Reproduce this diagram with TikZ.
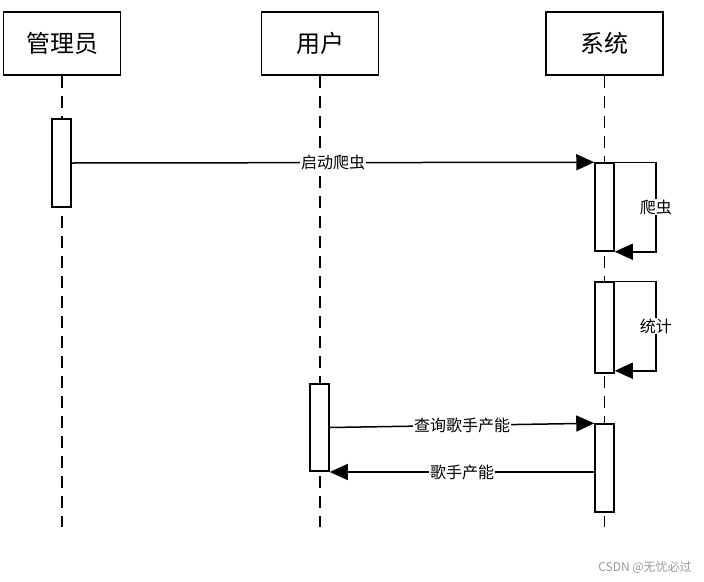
\documentclass[tikz,border=0pt]{standalone}
\usepackage{fontspec}
\newfontfamily\cjk{Noto Sans CJK SC}
\usetikzlibrary{arrows.meta,calc}

\tikzset{
  actor/.style={draw, line width=1.5pt, minimum width=117pt, minimum height=63pt,
    font=\cjk\fontsize{24}{24}\selectfont},
  lifeline/.style={line width=1.5pt, dash pattern=on 12pt off 8pt},
  act/.style={draw, fill=white, line width=1.5pt, minimum width=19pt, inner sep=0pt},
  msg/.style={line width=1.5pt, -{Triangle[length=18pt,width=16pt]}},
  lbl/.style={fill=white, inner sep=1pt, font=\cjk\fontsize{16}{16}\selectfont}
}

\begin{document}
\begin{tikzpicture}[x=1pt, y=-1pt]
\useasboundingbox (0,0) rectangle (704,581);

% participants
\node[actor] (admin) at (62,43.5) {管理员};
\node[actor] (user) at (320,43.5) {用户};
\node[actor] (sys) at (604.5,43.5) {系统};

% lifelines
\coordinate (bottom) at (0,527);
\draw[lifeline] (admin.south) -- (admin.south |- bottom);
\draw[lifeline] (user.south) -- (user.south |- bottom);
\draw[lifeline] (sys.south) -- (sys.south |- bottom);

% activations
\node[act, minimum height=88pt] (a1) at (61.5,163) {};
\node[act, minimum height=88pt] (s1) at (604.5,207) {};
\node[act, minimum height=91pt] (s2) at (604.5,327.5) {};
\node[act, minimum height=87pt] (u1) at (319.5,427.5) {};
\node[act, minimum height=88pt] (s3) at (604.5,468) {};

% messages
\draw[msg] (a1.east) -- node[lbl] {启动爬虫} (s1.north west);
\draw[msg] (s1.north east) -| ($(s1.south east)+(41,0)$) node[lbl, pos=0.75] {爬虫} -- (s1.south east);
\draw[msg] (s2.north east) -| ($(s2.south east)+(41,-3)$) node[lbl, pos=0.75] {统计} -- ([yshift=3pt]s2.south east);
\draw[msg] (u1.east) -- node[lbl] {查询歌手产能} (s3.north west);
\draw[msg] ([yshift=-4pt]s3.west) -- node[lbl] {歌手产能} ([yshift=-4pt]s3.west -| u1.east);

% watermark
\node[text=black!40, font=\cjk\fontsize{12}{12}\selectfont] (mark) at (645,567) {CSDN @无忧必过};
\end{tikzpicture}
\end{document}
